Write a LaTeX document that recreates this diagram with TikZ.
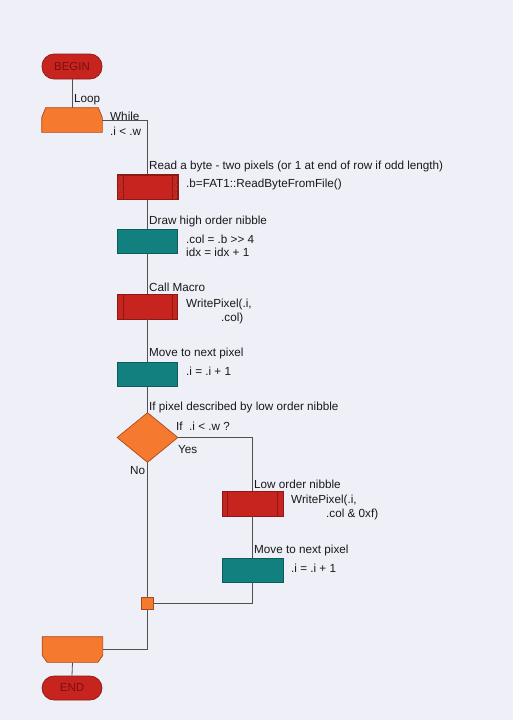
\documentclass[tikz,border=0pt]{standalone}
\usepackage{fontspec}
\setmainfont{Liberation Sans}
\usetikzlibrary{patterns.meta}
\definecolor{bg}{HTML}{EEEFF7}
\definecolor{rfill}{HTML}{C8241F}
\definecolor{rdraw}{HTML}{8A1A14}
\definecolor{ofill}{HTML}{F5792F}
\definecolor{odraw}{HTML}{A84A1C}
\definecolor{tfill}{HTML}{12807E}
\definecolor{tdraw}{HTML}{0B5C5A}
\definecolor{lcol}{HTML}{505050}
\definecolor{pilltext}{HTML}{7A0F0F}
\begin{document}
\begin{tikzpicture}[x=1pt,y=-1pt,
  boxbase/.style={inner sep=0pt, minimum width=60pt, minimum height=24pt, line width=0.7pt},
  redbox/.style={boxbase, draw=rdraw, fill=rfill},
  tealbox/.style={boxbase, draw=tdraw, fill=tfill},
  ghost/.style={boxbase, draw=none},
  pill/.style={boxbase, draw=rdraw, fill=rfill, rounded corners=12pt, text=pilltext, font=\fontsize{11.5}{13}\selectfont},
  orangeshape/.style={draw=odraw, fill=ofill, line width=0.7pt},
  txt/.style={anchor=west, inner sep=0pt, font=\fontsize{11.7}{13}\selectfont, text=black!90},
  conn/.style={draw=lcol, line width=0.8pt}]
\fill[bg] (0,0) rectangle (513,720);
\useasboundingbox (0,0) rectangle (513,720);

% nodes
\node[pill, minimum height=25pt] (begin) at (72,66.5) {BEGIN};
\node[ghost] (loop) at (72,120) {};
\node[redbox] (read) at (147.5,187) {};
\node[tealbox] (high) at (147.5,241) {};
\node[redbox, minimum height=25pt] (macro) at (147.5,306.5) {};
\node[tealbox] (move1) at (147.5,374) {};
\node[ghost, minimum height=49pt] (dia) at (147.5,437.5) {};
\node[redbox, minimum width=61pt, minimum height=25pt] (low) at (252.5,503.5) {};
\node[tealbox, minimum width=61pt] (move2) at (252.5,570) {};
\node[draw=odraw, fill=ofill, line width=0.7pt, inner sep=0pt, minimum size=12pt] (junc) at (147.5,603.5) {};
\node[ghost, minimum height=25pt] (loopend) at (72.5,649.5) {};
\node[pill] (end) at (72,688) {END};

% connectors
\draw[conn] (begin.south) -- (loop.north);
\draw[conn] (loop.east) -| (read.north);
\draw[conn] (read.south) -- (high.north);
\draw[conn] (high.south) -- (macro.north);
\draw[conn] (macro.south) -- (move1.north);
\draw[conn] (move1.south) -- (dia.north);
\draw[conn] (dia.east) -| (low.north);
\draw[conn] (low.south) -- (move2.north);
\draw[conn] (move2.south) |- (junc.east);
\draw[conn] (dia.south) -- (junc.north);
\draw[conn] (junc.south) |- (loopend.east);
\draw[conn] (loopend.south) -- (end.north);

% loop shapes
\draw[orangeshape] (loop.south west) -- (loop.south east) -- ([yshift=-10pt]loop.north east)
  -- ([xshift=-4pt]loop.north east) -- ([xshift=4pt]loop.north west) -- ([yshift=-10pt]loop.north west) -- cycle;
\draw[orangeshape] (loopend.north west) -- (loopend.north east) -- ([yshift=7pt]loopend.south east)
  -- ([xshift=-5pt]loopend.south east) -- ([xshift=5pt]loopend.south west) -- ([yshift=7pt]loopend.south west) -- cycle;
% diamond
\draw[orangeshape] (dia.north) -- (dia.east) -- (dia.south) -- (dia.west) -- cycle;
% junction redraw on top
\node[draw=odraw, fill=ofill, line width=0.7pt, inner sep=0pt, minimum size=12pt] at (junc) {};

% read box hatch bars
\fill[pattern={Lines[angle=60,distance=4pt,line width=0.8pt]}, pattern color=rdraw]
  (read.south west) rectangle ([xshift=6pt]read.north west);
\fill[pattern={Lines[angle=60,distance=4pt,line width=0.8pt]}, pattern color=rdraw]
  (read.south east) rectangle ([xshift=-6pt]read.north east);
\draw[rdraw, line width=0.7pt] ([xshift=6pt]read.south west) -- ([xshift=6pt]read.north west);
\draw[rdraw, line width=0.7pt] ([xshift=-6pt]read.south east) -- ([xshift=-6pt]read.north east);
\draw[rdraw, line width=0.7pt] (read.south west) rectangle (read.north east);
% macro side lines
\draw[rdraw, line width=0.7pt] ([xshift=6pt]macro.south west) -- ([xshift=6pt]macro.north west);
\draw[rdraw, line width=0.7pt] ([xshift=-6pt]macro.south east) -- ([xshift=-6pt]macro.north east);
\draw[rdraw, line width=0.7pt] ([xshift=6pt]low.south west) -- ([xshift=6pt]low.north west);
\draw[rdraw, line width=0.7pt] ([xshift=-6pt]low.south east) -- ([xshift=-6pt]low.north east);

% labels
\node[txt] (lLoop) at (74,100) {Loop};
\node[txt] (lWhile) at (110,116) {While};
\node[txt] (lCond) at (110,131) {.i < .w};
\node[txt] (lRead) at (149,166) {Read a byte - two pixels (or 1 at end of row if odd length)};
\node[txt] (lReadC) at (186,184) {.b=FAT1::ReadByteFromFile()};
\node[txt] (lHigh) at (149,221) {Draw high order nibble};
\node[txt] (lHighA) at (186,239) {.col = .b >{}> 4};
\node[txt] (lHighB) at (186,252) {idx = idx + 1};
\node[txt] (lMacro) at (149,287) {Call Macro};
\node[txt] (lMacroA) at (186,304) {WritePixel(.i,};
\node[txt] (lMacroB) at (221,318) {.col)};
\node[txt] (lMove1) at (149,353) {Move to next pixel};
\node[txt] (lMove1A) at (186,371) {.i = .i + 1};
\node[txt] (lDia) at (149,407) {If pixel described by low order nibble};
\node[txt] (lDiaA) at (176,426) {If\ \ .i < .w ?};
\node[txt] (lYes) at (178,450) {Yes};
\node[txt] (lNo) at (130,471) {No};
\node[txt] (lLow) at (254,484) {Low order nibble};
\node[txt] (lLowA) at (291,500) {WritePixel(.i,};
\node[txt] (lLowB) at (326,514) {.col \& 0xf)};
\node[txt] (lMove2) at (254,550) {Move to next pixel};
\node[txt] (lMove2A) at (291,568) {.i = .i + 1};
\end{tikzpicture}
\end{document}
